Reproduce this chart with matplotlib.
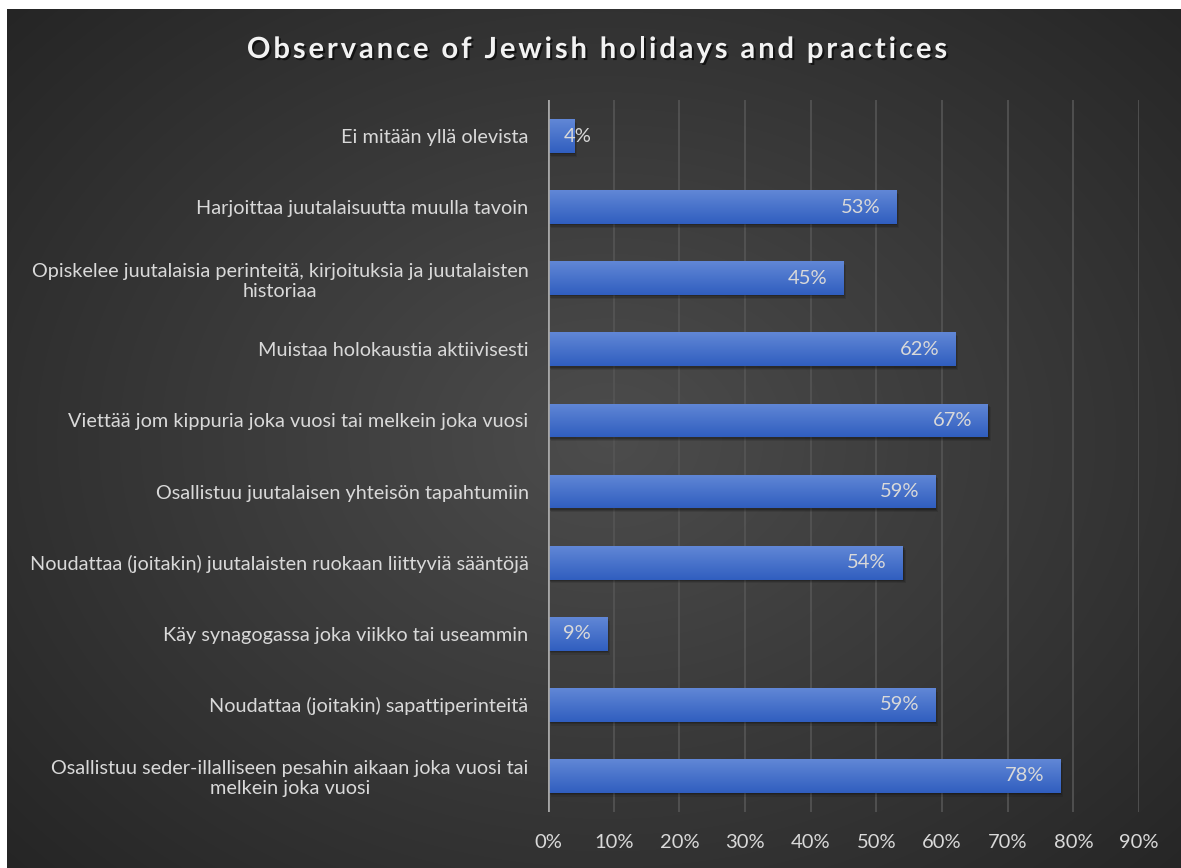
import matplotlib.pyplot as plt
import matplotlib.patheffects as pe
from matplotlib.patches import Rectangle
from matplotlib.ticker import PercentFormatter
import numpy as np

# survey answers, listed bottom to top
practices = [
    'Osallistuu seder-illalliseen pesahin aikaan joka vuosi tai\nmelkein joka vuosi',
    'Noudattaa (joitakin) sapattiperinteitä',
    'Käy synagogassa joka viikko tai useammin',
    'Noudattaa (joitakin) juutalaisten ruokaan liittyviä sääntöjä',
    'Osallistuu juutalaisen yhteisön tapahtumiin',
    'Viettää jom kippuria joka vuosi tai melkein joka vuosi',
    'Muistaa holokaustia aktiivisesti',
    'Opiskelee juutalaisia perinteitä, kirjoituksia ja juutalaisten\nhistoriaa',
    'Harjoittaa juutalaisuutta muulla tavoin',
    'Ei mitään yllä olevista',
]
shares = [78, 59, 9, 54, 59, 67, 62, 45, 53, 4]
x_ticks = [0, 10, 20, 30, 40, 50, 60, 70, 80, 90]
title = 'Observance of Jewish holidays and practices'

plt.rcParams['font.family'] = ['Lato', 'DejaVu Sans']
txt = '#d9d9d9'

fig = plt.figure(figsize=(11.81, 8.68), dpi=100)
fig.patch.set_facecolor('white')

# dark radial background of the chart area
bg = fig.add_axes([7 / 1181, 0, 1 - 7 / 1181, 1 - 9 / 868], zorder=-10)
yy, xx = np.mgrid[0:859, 0:1174]
r = np.hypot((xx - 600) / 900, (yy - 430) / 700)
shade = np.clip(0.30 - 0.17 * r, 0.13, 0.30)
bg.imshow(np.dstack([shade] * 3), aspect='auto', extent=[0, 1, 0, 1])
bg.set_axis_off()

ax = fig.add_axes([548 / 1181, 56.5 / 868, 591 / 1181, 711 / 868])
ax.set_facecolor('none')
ypos = np.arange(len(practices))
ax.set_xlim(0, 90)
ax.set_ylim(-0.5, len(practices) - 0.5)

# gradient fill for the bars
grad = np.linspace(0, 1, 64)[:, None]
c_top = np.array([0.38, 0.53, 0.84])
c_bot = np.array([0.19, 0.37, 0.75])
grad_img = c_bot + (c_top - c_bot) * grad[..., None]

h = 0.476
for y, v in zip(ypos, shares):
    # soft drop shadow
    for k, a in [(0.45, 0.10), (0.30, 0.14), (0.15, 0.18)]:
        ax.add_patch(Rectangle((k, y - h / 2 - k * 0.12), v, h, color='black', alpha=a, lw=0, zorder=2))
    rect = Rectangle((0, y - h / 2), v, h, facecolor='none', lw=0, zorder=3)
    ax.add_patch(rect)
    im = ax.imshow(grad_img, aspect='auto', extent=[0, v, y - h / 2, y + h / 2],
                   origin='lower', zorder=3)
    im.set_clip_path(rect)
    if v < 8:
        ax.annotate(f'{v}%', (0, y), xytext=(16, 0), textcoords='offset pixels',
                    ha='left', va='center', color=txt, fontsize=14.5, zorder=5)
    else:
        ax.annotate(f'{v}%', (v, y), xytext=(-16, 0), textcoords='offset pixels',
                    ha='right', va='center', color=txt, fontsize=14.5, zorder=5)

ax.set_xticks(x_ticks)
ax.xaxis.set_major_formatter(PercentFormatter(decimals=0))
ax.set_yticks(ypos)
ax.set_yticklabels(practices, multialignment='center')
ax.tick_params(axis='x', length=0, pad=16, labelsize=14.5, labelcolor=txt)
ax.tick_params(axis='y', length=0, pad=14, labelsize=14.3, labelcolor=txt)
ax.grid(axis='x', color='#555555', lw=1.2, zorder=0)
ax.set_axisbelow(True)
for s in ax.spines.values():
    s.set_visible(False)
ax.axvline(0, color='#a6a6a6', lw=2, zorder=4)

# letter-spaced title, placed one character at a time
renderer = fig.canvas.get_renderer()
tkw = dict(fontsize=21, fontweight='bold', color='#f2f2f2', va='center')


def width_px(s):
    t = fig.text(0, 0, s + '|', **tkw)
    w = t.get_window_extent(renderer).width
    t.remove()
    t = fig.text(0, 0, '|', **tkw)
    w -= t.get_window_extent(renderer).width
    t.remove()
    return w


spacing = 2.9
total = width_px(title) + spacing * (len(title) - 1)
x0 = 597 - total / 2
shadow = [pe.withSimplePatchShadow(offset=(1.5, -1.5), shadow_rgbFace='black', alpha=0.6)]
for i, ch in enumerate(title):
    if ch == ' ':
        continue
    xp = x0 + width_px(title[:i]) + spacing * i
    fig.text(xp / 1181, 1 - 50 / 868, ch, ha='left', path_effects=shadow, **tkw)

fig.savefig('out.png', dpi=100)
